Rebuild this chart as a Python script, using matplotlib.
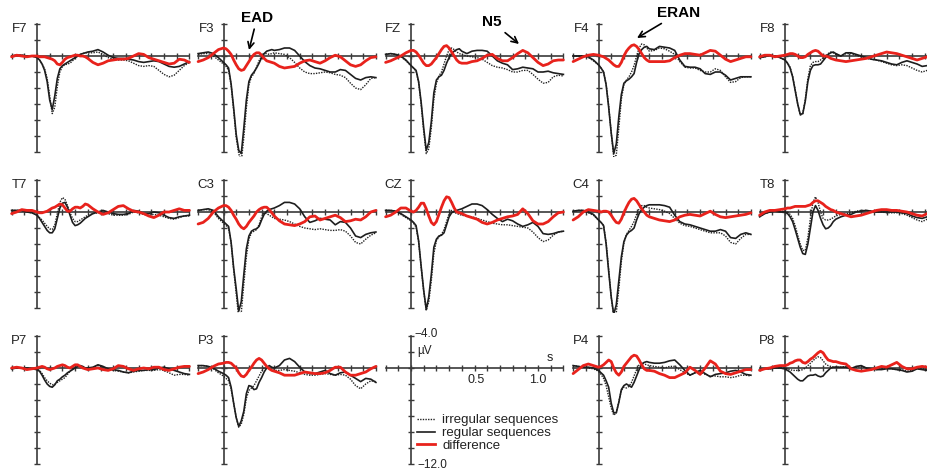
import numpy as np
import matplotlib
matplotlib.use("Agg")
import matplotlib.pyplot as plt
from matplotlib.lines import Line2D

plt.rcParams['font.family'] = ['Liberation Sans', 'DejaVu Sans']

# time axis (s), finer sampling around the early components
t = [-0.20, -0.16, -0.12, -0.08, -0.04, 0.00,
     0.02, 0.04, 0.06, 0.08, 0.10, 0.12, 0.14, 0.16, 0.18, 0.20,
     0.22, 0.24, 0.26, 0.28, 0.30, 0.32, 0.34, 0.36, 0.38, 0.40,
     0.44, 0.48, 0.52, 0.56, 0.60, 0.64, 0.68, 0.72, 0.76, 0.80,
     0.84, 0.88, 0.92, 0.96, 1.00, 1.04, 1.08, 1.12, 1.16, 1.20]

# amplitudes in microvolts (negative plotted upwards)
f7_irr = [0, -0.1, -0.1, 0, 0, 0.2,
          0.5, 1.0, 1.6, 2.8, 5.0, 7.2, 6.4, 3.8, 2.0, 1.3,
          1.1, 1.0, 0.9, 0.6, 0.3, 0.0, -0.2, -0.3, -0.4, -0.4,
          -0.4, -0.5, -0.2, 0.2, 0.4, 0.5, 0.5, 0.6, 0.9, 1.2,
          1.3, 1.2, 1.3, 1.8, 2.3, 2.6, 2.4, 1.8, 1.2, 0.8]
f7_reg = [0, -0.1, -0.1, 0, 0, 0.2,
          0.5, 1.0, 1.8, 3.2, 5.5, 6.7, 5.0, 2.8, 1.6, 1.2,
          1.0, 0.8, 0.6, 0.4, 0.2, 0.0, -0.2, -0.3, -0.4, -0.5,
          -0.6, -0.8, -0.5, -0.1, 0.2, 0.3, 0.3, 0.4, 0.5, 0.7,
          0.8, 0.7, 0.6, 0.7, 1.0, 1.3, 1.4, 1.3, 1.0, 0.7]
f7_diff = [0.1, -0.1, 0.0, 0.1, 0.0, 0.0,
           0.1, 0.1, 0.1, 0.2, 0.3, 0.4, 0.6, 1.0, 1.1, 0.8,
           0.4, 0.2, 0.1, 0.0, -0.1, -0.1, 0.0, 0.0, 0.1, 0.3,
           0.8, 1.1, 0.9, 0.6, 0.5, 0.4, 0.4, 0.3, 0.0, -0.3,
           -0.2, 0.2, 0.4, 0.6, 0.8, 1.0, 0.9, 0.4, 0.5, 0.8]

f3_irr = [-0.2, -0.3, -0.3, 0.0, 0.5, 1.0,
          1.3, 1.8, 3.6, 6.8, 10.2, 12.2, 13.2, 10.2, 6.5, 3.6,
          2.6, 2.2, 1.4, 0.6, 0.0, -0.3, -0.3, -0.2, -0.3, -0.4,
          -0.3, -0.2, 0.2, 0.8, 1.5, 2.0, 2.2, 2.2, 2.1, 2.0,
          2.1, 2.3, 2.4, 2.7, 3.4, 4.0, 4.2, 3.6, 2.8, 2.7]
f3_reg = [-0.3, -0.4, -0.5, -0.3, 0.2, 0.8,
          1.1, 1.5, 3.5, 6.5, 9.8, 11.8, 12.2, 9.0, 5.5, 3.2,
          2.4, 2.0, 1.5, 0.9, 0.2, -0.3, -0.6, -0.7, -0.8, -0.7,
          -0.8, -1.0, -1.0, -0.7, 0.0, 0.7, 1.2, 1.5, 1.6, 1.8,
          2.0, 2.0, 1.7, 1.8, 2.3, 2.8, 3.0, 2.7, 2.6, 2.7]
f3_diff = [0.7, 0.5, 0.2, -0.3, -0.8, -1.0,
           -0.9, -0.6, -0.2, 0.5, 1.1, 1.6, 1.8, 1.7, 1.2, 0.7,
           0.2, -0.2, -0.4, -0.4, -0.1, 0.3, 0.6, 0.7, 0.8, 0.9,
           1.3, 1.5, 1.4, 1.3, 0.9, 0.6, 0.5, 0.7, 0.9, 0.6,
           0.2, -0.1, 0.1, 0.6, 1.1, 1.3, 1.1, 0.6, 0.2, 0.1]

fz_irr = [-0.2, -0.3, -0.2, 0.1, 0.6, 1.2,
          1.5, 1.9, 3.3, 6.0, 9.4, 12.2, 11.6, 9.0, 5.4, 3.4,
          2.5, 2.0, 1.0, 0.0, -0.8, -1.0, -0.8, -0.5, -0.3, -0.2,
          0.0, 0.1, 0.2, 0.4, 0.8, 1.2, 1.4, 1.5, 1.7, 2.0,
          2.0, 1.8, 1.8, 2.3, 2.9, 3.4, 3.3, 2.6, 2.4, 2.5]
fz_reg = [-0.2, -0.3, -0.2, 0.0, 0.5, 1.2,
          1.5, 1.8, 3.2, 5.8, 9.0, 11.8, 10.8, 8.2, 4.6, 3.0,
          2.6, 2.4, 1.8, 0.9, 0.2, -0.3, -0.6, -0.8, -0.9, -0.6,
          -0.3, -0.6, -0.7, -0.7, -0.6, 0.0, 0.6, 0.9, 1.1, 1.7,
          1.6, 1.4, 1.5, 1.6, 2.0, 2.0, 1.9, 2.1, 2.2, 2.3]
fz_diff = [0.8, 0.6, 0.3, 0.0, -0.4, -0.7,
           -0.7, -0.5, -0.1, 0.4, 0.9, 1.2, 1.2, 1.0, 0.6, 0.2,
           -0.3, -0.8, -1.2, -1.3, -1.0, -0.5, 0.0, 0.5, 0.8, 0.9,
           0.9, 0.7, 0.6, 0.3, -0.1, -0.2, 0.3, 0.6, 0.6, 0.2,
           -0.3, -0.7, -0.4, 0.2, 0.8, 1.2, 1.0, 0.6, 0.5, 0.5]

f4_irr = [0.0, 0.0, 0.0, 0.2, 0.6, 1.1,
          1.5, 2.0, 3.5, 6.2, 9.6, 12.6, 12.4, 9.0, 5.4, 3.6,
          3.0, 2.6, 2.0, 1.2, 0.0, -1.0, -1.5, -1.4, -1.0, -0.6,
          -0.7, -1.0, -0.9, -0.6, -0.2, 0.7, 1.4, 1.5, 1.5, 1.8,
          2.0, 2.0, 1.6, 1.8, 2.6, 3.3, 3.2, 2.7, 2.6, 2.6]
f4_reg = [0.0, 0.0, 0.0, 0.1, 0.5, 1.1,
          1.5, 2.0, 3.6, 6.4, 9.6, 12.2, 11.0, 7.6, 4.8, 3.4,
          3.1, 2.9, 2.6, 2.2, 0.8, -0.3, -0.8, -1.1, -1.2, -0.9,
          -0.8, -1.2, -1.1, -1.0, -0.7, 0.5, 1.3, 1.4, 1.4, 1.6,
          2.2, 2.3, 2.0, 2.0, 2.4, 3.0, 2.8, 2.6, 2.6, 2.6]
f4_diff = [0.7, 0.4, 0.1, -0.1, -0.2, -0.1,
           0.0, 0.1, 0.3, 0.5, 0.8, 1.1, 1.3, 1.3, 0.8, 0.0,
           -0.6, -1.0, -1.3, -1.4, -1.2, -0.8, -0.3, 0.2, 0.5, 0.7,
           0.7, 0.7, 0.7, 0.6, 0.2, -0.1, -0.3, -0.3, -0.2, -0.1,
           -0.4, -0.7, -0.6, -0.1, 0.4, 0.7, 0.5, 0.3, 0.1, 0.1]

f8_irr = [0.2, 0.1, -0.1, 0.0, 0.2, 0.5,
          0.9, 1.4, 2.5, 4.2, 6.0, 7.4, 7.2, 5.4, 2.8, 1.2,
          0.8, 0.7, 0.7, 0.5, 0.2, 0.0, -0.3, -0.5, -0.4, -0.2,
          0.0, -0.3, -0.3, -0.1, 0.1, 0.3, 0.4, 0.5, 0.7, 0.9,
          1.1, 1.2, 1.1, 1.2, 1.5, 1.8, 2.0, 1.8, 1.4, 1.2]
f8_reg = [0.2, 0.1, -0.1, 0.0, 0.2, 0.5,
          0.9, 1.5, 2.6, 4.3, 6.0, 7.3, 7.2, 5.6, 3.2, 1.8,
          1.2, 1.1, 1.1, 1.0, 0.6, 0.2, -0.2, -0.4, -0.5, -0.3,
          0.0, -0.4, -0.4, -0.2, 0.0, 0.2, 0.4, 0.5, 0.6, 0.8,
          1.0, 1.1, 0.8, 0.6, 0.8, 1.0, 1.3, 1.2, 1.1, 1.0]
f8_diff = [0.1, -0.1, -0.1, 0.1, 0.0, -0.1,
           -0.2, -0.3, -0.3, -0.2, 0.0, 0.2, 0.2, 0.1, -0.2, -0.4,
           -0.6, -0.7, -0.6, -0.3, 0.0, 0.0, 0.1, 0.3, 0.4, 0.5,
           0.6, 0.7, 0.6, 0.5, 0.4, 0.3, 0.1, -0.1, -0.3, -0.5,
           -0.4, -0.3, -0.1, 0.1, 0.3, 0.5, 0.3, 0.1, -0.1, -0.2]

t7_irr = [-0.2, -0.2, -0.2, 0.0, 0.1, 0.4,
          0.7, 1.0, 1.4, 1.8, 2.1, 2.2, 1.6, 0.2, -1.2, -1.8,
          -1.6, -0.8, 0.1, 0.8, 1.2, 1.2, 1.0, 0.8, 0.6, 0.4,
          0.2, 0.1, 0.0, 0.2, 0.4, 0.4, 0.4, 0.3, 0.0, 0.1,
          0.3, 0.4, 0.3, 0.4, 0.6, 0.8, 0.9, 0.7, 0.5, 0.5]
t7_reg = [-0.2, -0.2, -0.2, 0.0, 0.1, 0.4,
          0.8, 1.3, 1.8, 2.3, 2.6, 2.6, 2.1, 0.8, -0.5, -1.1,
          -1.2, -0.6, 0.4, 1.3, 1.7, 1.6, 1.4, 1.1, 0.8, 0.6,
          0.2, 0.0, -0.2, 0.0, 0.2, 0.3, 0.3, 0.2, -0.2, -0.1,
          0.2, 0.2, 0.0, 0.1, 0.4, 0.7, 0.8, 0.6, 0.5, 0.4]
t7_diff = [0.2, 0.0, -0.3, -0.2, -0.2, 0.0,
           0.1, 0.1, 0.0, -0.1, -0.3, -0.5, -0.6, -0.8, -1.0, -0.9,
           -0.5, -0.1, -0.1, -0.4, -0.6, -0.6, -0.5, -0.7, -1.0, -0.9,
           -0.4, 0.0, 0.3, 0.1, -0.3, -0.7, -0.8, -0.4, -0.1, 0.0,
           0.2, 0.5, 0.7, 0.4, 0.0, 0.0, -0.2, -0.4, -0.2, -0.2]

c3_irr = [-0.2, -0.3, -0.3, 0.0, 0.8, 1.4,
          1.7, 2.0, 3.8, 7.2, 10.2, 13.2, 12.6, 9.0, 5.6, 3.4,
          2.6, 2.4, 2.2, 1.6, 0.6, 0.1, 0.2, 0.4, 0.6, 0.8,
          0.9, 1.0, 1.2, 1.5, 1.8, 2.0, 2.1, 2.2, 2.1, 2.2,
          2.3, 2.3, 2.2, 2.4, 3.0, 3.8, 4.0, 3.4, 2.9, 2.6]
c3_reg = [-0.2, -0.3, -0.4, -0.2, 0.6, 1.2,
          1.5, 1.8, 3.8, 7.0, 9.6, 12.4, 11.2, 7.8, 4.6, 3.0,
          2.4, 2.2, 2.1, 1.8, 1.0, 0.3, -0.1, -0.3, -0.4, -0.5,
          -0.8, -1.2, -1.2, -1.0, -0.4, 0.6, 1.3, 1.1, 0.8, 0.9,
          1.0, 1.6, 1.2, 1.3, 2.0, 3.0, 3.2, 2.8, 2.6, 2.5]
c3_diff = [1.5, 1.3, 0.8, 0.0, -0.5, -0.8,
           -0.8, -0.6, -0.2, 0.4, 0.9, 1.5, 1.9, 2.1, 1.8, 1.3,
           0.9, 0.5, 0.0, -0.3, -0.5, -0.6, -0.6, -0.3, 0.1, 0.5,
           1.1, 1.5, 1.6, 1.7, 1.5, 1.2, 0.6, 0.5, 1.0, 0.8,
           0.6, 0.4, 0.7, 1.2, 1.1, 0.9, 1.0, 0.6, 0.0, -0.2]

cz_irr = [-0.2, -0.2, -0.1, 0.3, 0.7, 1.1,
          1.4, 1.9, 3.7, 6.9, 9.9, 12.3, 11.2, 8.6, 5.2, 3.6,
          3.1, 2.8, 2.2, 1.2, 0.2, -0.2, 0.0, 0.2, 0.3, 0.4,
          0.5, 0.6, 0.8, 1.0, 1.2, 1.4, 1.5, 1.6, 1.6, 1.7,
          1.8, 1.9, 2.0, 2.5, 3.2, 3.7, 3.5, 2.9, 2.5, 2.4]
cz_reg = [-0.2, -0.2, -0.1, 0.2, 0.6, 1.0,
          1.3, 1.7, 3.6, 6.8, 9.8, 12.2, 10.6, 7.8, 4.4, 3.4,
          3.0, 2.9, 2.6, 1.6, 0.6, 0.1, -0.1, -0.2, -0.3, -0.4,
          -0.7, -1.0, -1.0, -0.8, -0.3, 0.3, 0.8, 1.2, 0.9, 1.1,
          1.5, 1.8, 1.6, 1.3, 1.8, 2.7, 2.8, 2.7, 2.5, 2.4]
cz_diff = [0.6, 0.4, 0.0, -0.5, -0.5, -0.1,
           0.0, -0.2, -0.6, -1.1, -1.1, -0.4, 0.5, 1.3, 1.6, 1.2,
           0.3, -0.6, -1.4, -1.9, -1.8, -1.2, -0.5, 0.0, 0.1, 0.2,
           0.5, 0.7, 0.9, 1.3, 1.5, 1.3, 1.0, 0.8, 0.6, 0.5,
           0.3, -0.4, 0.2, 1.1, 1.5, 1.5, 1.2, 0.6, 0.1, 0.0]

c4_irr = [-0.1, -0.2, -0.2, 0.1, 0.4, 1.0,
          1.3, 1.7, 3.8, 7.2, 10.6, 13.2, 12.6, 9.6, 6.2, 3.9,
          2.8, 2.3, 1.8, 1.2, 0.3, -0.4, -0.8, -0.8, -0.6, -0.5,
          -0.4, -0.3, -0.1, 0.2, 0.8, 1.4, 1.7, 1.8, 2.0, 2.2,
          2.4, 2.6, 2.6, 2.6, 3.0, 3.8, 4.0, 3.3, 2.8, 2.8]
c4_reg = [-0.1, -0.2, -0.2, 0.0, 0.3, 1.0,
          1.3, 1.7, 4.0, 7.4, 10.6, 12.8, 11.6, 8.6, 5.6, 3.7,
          2.9, 2.5, 2.3, 2.0, 1.0, 0.2, -0.3, -0.6, -0.8, -0.9,
          -0.9, -0.9, -0.8, -0.6, 0.4, 1.2, 1.5, 1.6, 1.8, 2.0,
          2.2, 2.4, 2.4, 2.2, 2.4, 3.2, 3.3, 2.8, 2.6, 2.8]
c4_diff = [1.0, 0.6, 0.0, -0.3, -0.2, -0.1,
           0.0, -0.1, -0.1, 0.0, 0.4, 0.9, 1.3, 1.4, 0.9, 0.1,
           -0.6, -1.2, -1.6, -1.7, -1.4, -0.9, -0.4, 0.0, 0.4, 0.6,
           0.8, 1.0, 1.1, 1.2, 1.0, 0.6, 0.4, 0.3, 0.4, 0.5,
           0.2, -0.1, 0.3, 0.6, 0.7, 0.6, 0.5, 0.4, 0.3, 0.1]

t8_irr = [0.6, 0.2, 0.0, -0.1, -0.1, -0.1,
          0.0, 0.3, 0.8, 1.7, 2.9, 4.0, 4.8, 4.8, 3.2, 0.8,
          -1.2, -1.9, -1.2, 0.0, 0.8, 1.0, 1.0, 0.9, 0.7, 0.5,
          0.3, 0.2, 0.1, -0.1, -0.2, -0.2, -0.1, 0.0, 0.0, 0.1,
          0.1, 0.1, 0.2, 0.4, 0.7, 1.0, 1.2, 0.9, 0.6, 0.4]
t8_reg = [0.6, 0.2, 0.0, -0.1, 0.0, 0.0,
          0.2, 0.6, 1.2, 2.2, 3.3, 4.4, 5.2, 5.3, 4.0, 2.0,
          0.0, -0.8, -0.2, 0.8, 1.6, 2.1, 2.0, 1.7, 1.2, 0.9,
          0.6, 0.4, 0.3, 0.0, -0.1, -0.2, -0.1, 0.0, 0.0, 0.0,
          0.0, 0.0, 0.1, 0.2, 0.5, 0.7, 0.8, 0.6, 0.4, 0.3]
t8_diff = [0.4, 0.0, -0.2, -0.2, -0.3, -0.4,
           -0.5, -0.5, -0.6, -0.7, -0.7, -0.7, -0.7, -0.7, -0.8, -0.9,
           -1.2, -1.4, -1.4, -1.2, -1.0, -0.7, -0.5, -0.3, -0.2, 0.0,
           0.2, 0.4, 0.6, 0.5, 0.4, 0.2, 0.0, -0.2, -0.3, -0.3,
           -0.2, -0.2, -0.1, 0.0, 0.2, 0.4, 0.5, 0.2, 0.0, -0.1]

p7_irr = [0.1, 0.0, 0.0, 0.0, 0.1, 0.2,
          0.3, 0.7, 1.2, 1.6, 1.9, 2.1, 2.0, 1.8, 1.6, 1.4,
          1.2, 0.8, 0.4, 0.1, -0.1, -0.2, -0.2, -0.1, 0.0, 0.1,
          0.0, -0.3, -0.1, 0.2, 0.3, 0.4, 0.5, 0.6, 0.5, 0.4,
          0.3, 0.3, 0.3, 0.2, 0.3, 0.6, 0.9, 0.8, 0.8, 0.9]
p7_reg = [0.1, 0.0, 0.0, 0.0, 0.1, 0.2,
          0.4, 0.9, 1.5, 2.0, 2.3, 2.4, 2.1, 1.6, 1.4, 1.1,
          0.9, 0.6, 0.4, 0.2, 0.0, -0.2, -0.3, -0.2, 0.0, 0.0,
          -0.1, -0.4, -0.2, 0.1, 0.2, 0.3, 0.5, 0.6, 0.4, 0.3,
          0.3, 0.2, 0.2, 0.0, -0.1, 0.1, 0.3, 0.5, 0.7, 0.8]
p7_diff = [0.0, -0.1, 0.0, 0.2, 0.1, 0.0,
           -0.1, -0.2, -0.1, 0.1, 0.2, 0.1, 0.0, -0.2, -0.3, -0.4,
           -0.3, -0.1, 0.0, -0.2, -0.4, -0.4, -0.2, 0.0, 0.1, 0.2,
           0.1, 0.0, 0.2, 0.3, 0.1, -0.3, -0.2, 0.1, 0.3, 0.1,
           0.0, 0.1, -0.1, -0.1, 0.2, 0.3, 0.1, -0.1, -0.2, -0.2]

p3_irr = [-0.3, -0.3, -0.2, 0.1, 0.6, 1.0,
          1.3, 1.6, 2.6, 4.4, 6.2, 7.4, 7.0, 5.8, 3.8, 2.8,
          2.5, 2.2, 1.6, 1.0, 0.4, 0.0, -0.1, 0.0, 0.2, 0.3,
          0.3, 0.2, 0.3, 0.4, 0.6, 0.8, 0.9, 0.9, 0.8, 0.7,
          0.8, 0.9, 0.8, 0.9, 1.4, 2.2, 2.6, 2.0, 1.6, 1.7]
p3_reg = [-0.3, -0.3, -0.2, 0.0, 0.4, 0.7,
          0.9, 1.2, 2.4, 4.4, 6.2, 7.3, 6.6, 5.4, 3.2, 2.2,
          2.3, 2.7, 2.6, 1.8, 1.2, 0.5, 0.0, -0.3, -0.1, 0.0,
          -0.3, -1.0, -1.2, -0.8, -0.1, 0.5, 0.7, 0.7, 0.5, 0.3,
          0.7, 0.9, 0.6, 0.5, 0.9, 1.3, 1.7, 1.3, 1.4, 1.8]
p3_diff = [0.7, 0.5, 0.2, -0.2, -0.5, -0.6,
           -0.7, -0.7, -0.6, -0.3, 0.0, 0.6, 1.0, 1.1, 0.8, 0.3,
           -0.1, -0.6, -1.0, -1.2, -1.0, -0.6, -0.2, 0.1, 0.3, 0.4,
           0.6, 0.9, 0.9, 0.9, 0.7, 0.5, 0.6, 0.7, 0.7, 0.6,
           0.3, -0.1, -0.1, 0.5, 0.9, 0.9, 0.7, 0.5, 0.1, -0.2]

p4_irr = [-0.3, -0.2, -0.1, 0.0, 0.1, 0.4,
          0.8, 1.3, 2.2, 3.6, 5.0, 5.9, 5.6, 4.2, 2.8, 2.4,
          2.5, 2.3, 1.8, 1.0, 0.2, -0.4, -0.6, -0.5, -0.4, -0.3,
          -0.2, -0.1, 0.0, -0.2, -0.2, 0.2, 0.6, 0.9, 0.6, 0.5,
          0.8, 1.0, 1.0, 1.1, 1.1, 1.2, 1.1, 0.9, 0.9, 1.0]
p4_reg = [-0.3, -0.2, -0.1, -0.1, 0.0, 0.3,
          0.6, 0.9, 1.6, 2.4, 4.4, 5.6, 5.6, 4.3, 2.7, 2.2,
          2.0, 2.2, 2.4, 1.8, 1.0, 0.2, -0.5, -0.7, -0.8, -0.7,
          -0.6, -0.6, -0.7, -0.9, -1.0, -0.4, 0.3, 0.9, 0.6, 0.3,
          0.7, 1.1, 0.8, 0.7, 0.6, 0.4, 0.3, 0.5, 0.8, 0.9]
p4_diff = [0.7, 0.2, -0.3, -0.5, -0.3, -0.1,
           -0.2, -0.4, -0.7, -1.0, -0.8, 0.0, 0.6, 0.9, 0.5, -0.2,
           -0.6, -1.0, -1.4, -1.6, -1.5, -1.0, -0.4, 0.1, 0.3, 0.3,
           0.4, 0.7, 0.9, 1.2, 1.2, 0.9, 0.6, -0.1, 0.3, 0.8,
           0.0, -0.9, -0.5, 0.4, 0.7, 0.8, 0.6, 0.4, 0.2, 0.2]

p8_irr = [0.2, 0.1, 0.1, 0.0, 0.0, 0.0,
          0.1, 0.2, 0.3, 0.3, 0.3, 0.3, 0.2, 0.0, -0.3, -0.6,
          -0.9, -1.2, -1.4, -1.3, -0.9, -0.5, -0.3, -0.2, -0.1, -0.1,
          -0.1, -0.2, 0.0, -0.1, -0.2, 0.0, 0.1, 0.2, 0.1, 0.0,
          0.1, 0.2, 0.2, 0.4, 0.3, 0.1, 0.1, 0.2, 0.1, 0.1]
p8_reg = [0.2, 0.1, 0.1, 0.0, 0.0, 0.1,
          0.3, 0.5, 0.8, 1.1, 1.4, 1.6, 1.6, 1.3, 1.0, 0.9,
          0.9, 0.8, 1.0, 1.1, 1.0, 0.6, 0.3, 0.0, -0.1, -0.1,
          -0.1, -0.1, 0.1, -0.2, -0.3, 0.0, 0.1, 0.2, 0.2, 0.1,
          0.1, 0.2, 0.3, 0.5, 0.4, 0.1, 0.2, 0.3, 0.2, 0.1]
p8_diff = [0.3, 0.1, 0.0, -0.2, -0.3, -0.3,
           -0.4, -0.6, -0.7, -0.9, -1.0, -1.0, -0.7, -0.6, -0.8, -1.1,
           -1.3, -1.6, -1.9, -2.1, -1.9, -1.4, -1.0, -0.9, -0.8, -0.8,
           -0.6, -0.5, 0.1, 0.3, 0.4, 0.3, 0.2, 0.0, -0.2, -0.1,
           -0.4, -0.7, -0.2, 0.1, 0.1, -0.1, -0.2, -0.1, -0.1, -0.1]

channels = [["F7", "F3", "FZ", "F4", "F8"],
            ["T7", "C3", "CZ", "C4", "T8"],
            ["P7", "P3", None, "P4", "P8"]]

waves = {
    "F7": (f7_irr, f7_reg, f7_diff), "F3": (f3_irr, f3_reg, f3_diff),
    "FZ": (fz_irr, fz_reg, fz_diff), "F4": (f4_irr, f4_reg, f4_diff),
    "F8": (f8_irr, f8_reg, f8_diff), "T7": (t7_irr, t7_reg, t7_diff),
    "C3": (c3_irr, c3_reg, c3_diff), "CZ": (cz_irr, cz_reg, cz_diff),
    "C4": (c4_irr, c4_reg, c4_diff), "T8": (t8_irr, t8_reg, t8_diff),
    "P7": (p7_irr, p7_reg, p7_diff), "P3": (p3_irr, p3_reg, p3_diff),
    "P4": (p4_irr, p4_reg, p4_diff), "P8": (p8_irr, p8_reg, p8_diff),
}
for name, ser in waves.items():
    for s in ser:
        if len(s) != len(t):
            raise ValueError(name + " has %d points" % len(s))

# styles
AXCOL = '#3a3a3a'
TXT = '#222222'
RED = '#e8221c'
style_irr = dict(color='#222222', lw=1.0, ls=(0, (1.0, 0.9)))
style_reg = dict(color='#1e1e1e', lw=1.2, ls='-')
style_diff = dict(color=RED, lw=2.0, ls='-')

# layout in pixels
W, H = 927, 470
col_x0 = [37, 223.5, 411, 598.5, 785]   # pixel of t = 0
row_y0 = [56, 212, 368]                 # pixel of 0 uV
PX_S, PX_UV = 127.0, 8.0
XMIN, XMAX = -0.24, 1.24
YTOP, YBOT = -4.6, 12.6

fig = plt.figure(figsize=(W / 100, H / 100), dpi=100)


def make_axes(cx, cy):
    left = cx + XMIN * PX_S
    width = (XMAX - XMIN) * PX_S
    top = cy + YTOP * PX_UV
    height = (YBOT - YTOP) * PX_UV
    ax = fig.add_axes([left / W, 1 - (top + height) / H, width / W, height / H])
    ax.set_xlim(XMIN, XMAX)
    ax.set_ylim(YBOT, YTOP)
    ax.patch.set_visible(False)
    for s in ['top', 'right']:
        ax.spines[s].set_visible(False)
    ax.spines['left'].set_position(('data', 0))
    ax.spines['bottom'].set_position(('data', 0))
    ax.spines['left'].set_bounds(-4, 12)
    ax.spines['bottom'].set_bounds(-0.2, 1.2)
    for s in ['left', 'bottom']:
        ax.spines[s].set_color(AXCOL)
        ax.spines[s].set_linewidth(1.2)
    ax.set_xticks(np.round(np.arange(-0.2, 1.201, 0.1), 2))
    ax.set_yticks(np.arange(-4, 12.1, 2))
    ax.tick_params(direction='inout', length=5, width=1.0, color=AXCOL,
                   labelleft=False, labelbottom=False)
    return ax


for r, row in enumerate(channels):
    for c, name in enumerate(row):
        ax = make_axes(col_x0[c], row_y0[r])
        if name is None:
            # scale / legend panel
            ax.text(0.03, -4.2, '\u22124.0', ha='left', va='center', fontsize=8.5, color=TXT)
            ax.text(0.05, -2.1, '\u00b5V', ha='left', va='center', fontsize=8.5, color=TXT)
            ax.text(1.09, -1.2, 's', ha='center', va='center', fontsize=9, color=TXT)
            ax.text(0.51, 1.5, '0.5', ha='center', va='center', fontsize=9, color=TXT)
            ax.text(1.0, 1.5, '1.0', ha='center', va='center', fontsize=9, color=TXT)
            ax.text(0.05, 12.1, '\u221212.0', ha='left', va='center', fontsize=8.5, color=TXT)
            handles = [Line2D([], [], **style_irr), Line2D([], [], **style_reg),
                       Line2D([], [], **style_diff)]
            ax.legend(handles, ['irregular sequences', 'regular sequences', 'difference'],
                      loc='upper left', bbox_to_anchor=(0.05, 5.75),
                      bbox_transform=ax.transData, frameon=False, fontsize=9.5,
                      handlelength=1.3, handletextpad=0.6, labelspacing=0.05,
                      borderpad=0, borderaxespad=0, labelcolor=TXT)
            continue
        irr, reg, diff = waves[name]
        ax.plot(t, irr, zorder=3, **style_irr)
        ax.plot(t, reg, zorder=4, **style_reg)
        ax.plot(t, diff, zorder=5, solid_capstyle='round', **style_diff)
        ax.text(-0.075, -3.0, name, ha='right', va='baseline', fontsize=9.5, color=TXT)

# component annotations
ov = fig.add_axes([0, 0, 1, 1])
ov.set_xlim(0, W)
ov.set_ylim(H, 0)
ov.axis('off')
arrow = dict(arrowstyle='->', lw=1.2, color='black', shrinkA=1, shrinkB=0)
ov.annotate('EAD', xy=(249, 50), xytext=(257, 18), ha='center', va='center',
            fontsize=11, fontweight='bold', arrowprops=arrow)
ov.annotate('N5', xy=(519, 44), xytext=(492, 22), ha='center', va='center',
            fontsize=11, fontweight='bold', arrowprops=arrow)
ov.annotate('ERAN', xy=(637, 38), xytext=(679, 13), ha='center', va='center',
            fontsize=11, fontweight='bold', arrowprops=arrow)

fig.savefig('out.png', dpi=100)
